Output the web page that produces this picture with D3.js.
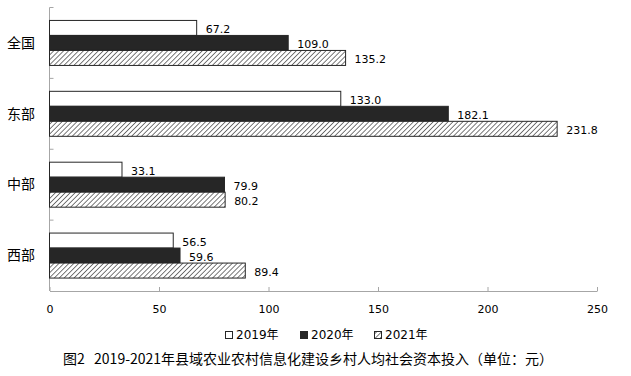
<!DOCTYPE html>
<html><head><meta charset="utf-8">
<script src="https://cdn.jsdelivr.net/npm/d3@7/dist/d3.min.js"></script>
<style>body{margin:0;background:#fff}svg{display:block}</style>
</head><body><svg id="c" width="631" height="376"></svg>
<script>
const categories = ["全国","东部","中部","西部"];
const years = ["2019年","2020年","2021年"];
const v2019 = [67.2,133.0,33.1,56.5];
const v2020 = [109.0,182.1,79.9,59.6];
const v2021 = [135.2,231.8,80.2,89.4];
const xTicks = [0,50,100,150,200,250];
const title = "图2   2019-2021年县域农业农村信息化建设乡村人均社会资本投入（单位：元）";

const series = [v2019, v2020, v2021];
const svg = d3.select("#c");
const defs = svg.append("defs");
const pat = defs.append("pattern").attr("id","hatch").attr("patternUnits","userSpaceOnUse")
  .attr("width",3.5).attr("height",3.5).attr("patternTransform","rotate(45)");
pat.append("rect").attr("width",3.5).attr("height",3.5).attr("fill","#fff");
pat.append("line").attr("x1",0).attr("y1",0).attr("x2",0).attr("y2",3.5).attr("stroke","#333").attr("stroke-width",1.3);

const x = d3.scaleLinear().domain([0,250]).range([49.5,597]);
const y0 = d3.scaleBand().domain(categories).range([7.5,291]);
const barH = 15;
const bw = y0.bandwidth();
const pO = (bw/barH - 3)/2;
const y1 = d3.scaleBand().domain(years).range([0,bw]).paddingOuter(pO).paddingInner(0);

const axisCol = "#a6a6a6";
const xa = svg.append("g").attr("transform","translate(0,291)")
  .call(d3.axisBottom(x).tickValues(xTicks).tickSizeInner(-4).tickSizeOuter(0).tickPadding(14));
xa.select(".domain").attr("stroke",axisCol);
xa.selectAll(".tick line").attr("stroke",axisCol);
xa.selectAll("text").attr("font-family","DejaVu Sans").attr("font-size",11).attr("fill","#000");

svg.append("line").attr("x1",49.5).attr("x2",49.5).attr("y1",7.5).attr("y2",291).attr("stroke",axisCol);
const bounds = categories.map(c=>y0(c));
svg.selectAll(".ytk").data(bounds).join("line")
  .attr("x1",49.5).attr("x2",53.5).attr("y1",d=>d).attr("y2",d=>d).attr("stroke",axisCol);
svg.selectAll(".ylab").data(categories).join("text")
  .attr("x",35).attr("y",c=>y0(c)+bw/2+1).attr("text-anchor","end").attr("dominant-baseline","middle")
  .attr("font-family","Noto Sans CJK SC").attr("font-size",14).attr("fill","#000").text(c=>c);

const fills = ["#fff","#262626","url(#hatch)"];
const g = svg.append("g");
series.forEach((s,i)=>{
  g.selectAll(".b"+i).data(categories).join("rect")
    .attr("x",x(0)).attr("y",(c)=>y0(c)+y1(years[i]))
    .attr("width",(c,j)=>x(s[j])-x(0)).attr("height",barH)
    .attr("fill",fills[i]).attr("stroke","#262626").attr("stroke-width",1);
  g.selectAll(".l"+i).data(categories).join("text")
    .attr("x",(c,j)=>x(s[j])+9).attr("y",c=>y0(c)+y1(years[i])+barH/2+2)
    .attr("dominant-baseline","middle").attr("font-family","DejaVu Sans").attr("font-size",11).attr("fill","#000")
    .text((c,j)=>s[j].toFixed(1));
});

const lx = [225,300,374];
years.forEach((yr,i)=>{
  svg.append("rect").attr("x",lx[i]+0.5).attr("y",331.5).attr("width",7).attr("height",7)
    .attr("fill",fills[i]).attr("stroke","#262626").attr("stroke-width",1);
  svg.append("text").attr("x",lx[i]+11).attr("y",335.5).attr("dominant-baseline","middle")
    .attr("font-family","DejaVu Sans, Noto Sans CJK SC").attr("font-size",12).attr("fill","#000").text(yr);
});

svg.append("text").attr("x",308).attr("y",360).attr("text-anchor","middle").attr("dominant-baseline","middle")
  .style("white-space","pre")
  .attr("font-family","Noto Sans CJK SC").attr("font-size",14).attr("fill","#000").text(title);
</script></body></html>
